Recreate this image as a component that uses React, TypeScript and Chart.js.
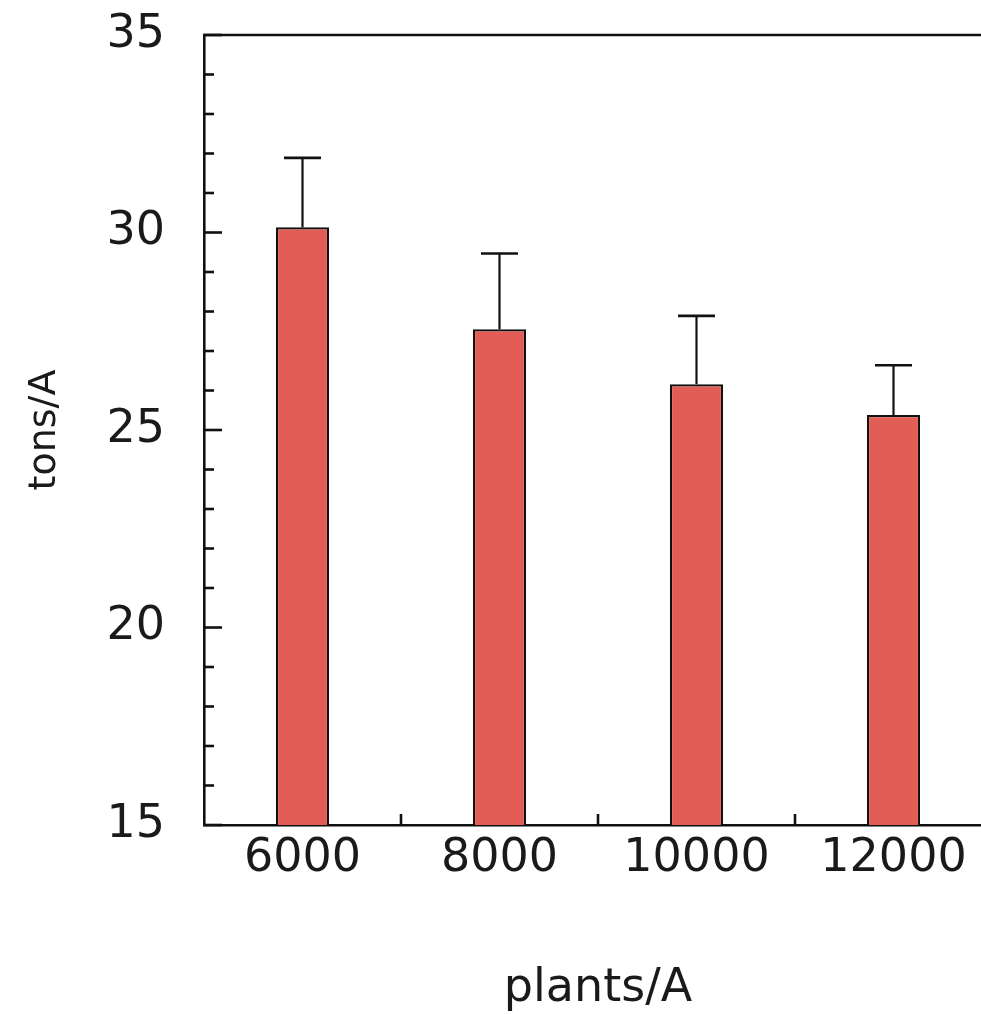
import React, { useEffect, useRef } from "react";
import { Chart, registerables } from "chart.js";

Chart.register(...registerables);

const categories = ["6000", "8000", "10000", "12000"];
const yieldValues = [30.13, 27.55, 26.16, 25.38];
const errorUpper = [31.89, 29.47, 27.89, 26.64];
const yMin = 15;
const yMax = 35;
const yStep = 5;
const xTitle = "plants/A";
const yTitle = "tons/A";

const FONT = "'DejaVu Sans', sans-serif";
const BAR_COLOR = "rgb(227, 93, 87)";
const INK = "#111";

const framePlugin = {
  id: "frameAndTicks",
  afterDatasetsDraw(chart: any) {
    const { ctx, chartArea } = chart;
    const ys = chart.scales.y;
    const xs = chart.scales.x;
    ctx.save();
    ctx.strokeStyle = INK;
    ctx.lineCap = "butt";
    // error bars
    const meta = chart.getDatasetMeta(0);
    ctx.lineWidth = 2.2;
    meta.data.forEach((bar: any, i: number) => {
      const x = bar.x;
      const yTop = ys.getPixelForValue(errorUpper[i]);
      const yBase = ys.getPixelForValue(yieldValues[i]);
      ctx.beginPath();
      ctx.moveTo(x, yBase);
      ctx.lineTo(x, yTop);
      ctx.stroke();
      ctx.lineWidth = 2.6;
      ctx.beginPath();
      ctx.moveTo(x - 18.5, yTop);
      ctx.lineTo(x + 18.5, yTop);
      ctx.stroke();
      ctx.lineWidth = 2.2;
    });
    // top and right frame
    ctx.lineWidth = 2.6;
    ctx.beginPath();
    ctx.moveTo(chartArea.left - 1, chartArea.top);
    ctx.lineTo(chartArea.right, chartArea.top);
    ctx.lineTo(chartArea.right, chartArea.bottom);
    ctx.stroke();
    // inward y ticks
    for (let v = yMin; v <= yMax; v += 1) {
      const y = ys.getPixelForValue(v);
      const len = v % yStep === 0 ? 18 : 10;
      ctx.beginPath();
      ctx.moveTo(chartArea.left, y);
      ctx.lineTo(chartArea.left + len, y);
      ctx.stroke();
    }
    // inward x ticks at category boundaries
    for (let i = 1; i < categories.length; i++) {
      const x = Math.round((xs.getPixelForValue(i - 1) + xs.getPixelForValue(i)) / 2);
      ctx.beginPath();
      ctx.moveTo(x, chartArea.bottom);
      ctx.lineTo(x, chartArea.bottom - 11);
      ctx.stroke();
    }
    ctx.restore();
  },
};

export default function App() {
  const ref = useRef<HTMLCanvasElement>(null);
  useEffect(() => {
    if (!ref.current) return;
    const chart = new Chart(ref.current, {
      type: "bar",
      data: {
        labels: categories,
        datasets: [
          {
            data: yieldValues,
            backgroundColor: BAR_COLOR,
            borderColor: INK,
            borderWidth: 2.2,
            borderSkipped: false,
            barPercentage: 0.27,
            categoryPercentage: 1,
          },
        ],
      },
      options: {
        responsive: false,
        animation: false,
        devicePixelRatio: 1,
        layout: { padding: { top: 35, right: 8, left: 0, bottom: 0 } },
        plugins: {
          legend: { display: false },
          tooltip: { enabled: false },
        },
        scales: {
          x: {
            grid: { display: false, drawTicks: false },
            border: { display: true, color: INK, width: 2.6 },
            ticks: {
              color: "#1a1a1a",
              font: { family: FONT, size: 46 },
              padding: 6,
              maxRotation: 0,
            },
            title: {
              display: true,
              text: xTitle,
              color: "#1a1a1a",
              font: { family: FONT, size: 46, lineHeight: 1.1 },
              padding: { top: 0, bottom: 0 },
            },
            afterFit(scale: any) {
              scale.height = 189;
              scale.paddingLeft = 0;
              scale.paddingRight = 0;
            },
          },
          y: {
            min: yMin,
            max: yMax,
            grid: { display: false, drawTicks: false },
            border: { display: true, color: INK, width: 2.6 },
            ticks: {
              stepSize: yStep,
              color: "#1a1a1a",
              font: { family: FONT, size: 46 },
              padding: 39,
            },
            title: {
              display: true,
              text: yTitle,
              color: "#1a1a1a",
              font: { family: FONT, size: 38 },
              padding: { top: 22, bottom: 0 },
            },
            afterFit(scale: any) {
              scale.width = 204;
              scale.paddingTop = 0;
              scale.paddingBottom = 0;
            },
          },
        },
      },
      plugins: [framePlugin],
    });
    return () => chart.destroy();
  }, []);
  return (
    <div
      style={{
        position: "absolute",
        left: 0,
        top: 0,
        width: 981,
        height: 1014,
        overflow: "hidden",
        background: "#fff",
      }}
    >
      <canvas ref={ref} width={1000} height={1014} style={{ width: 1000, height: 1014, display: "block" }} />
    </div>
  );
}
